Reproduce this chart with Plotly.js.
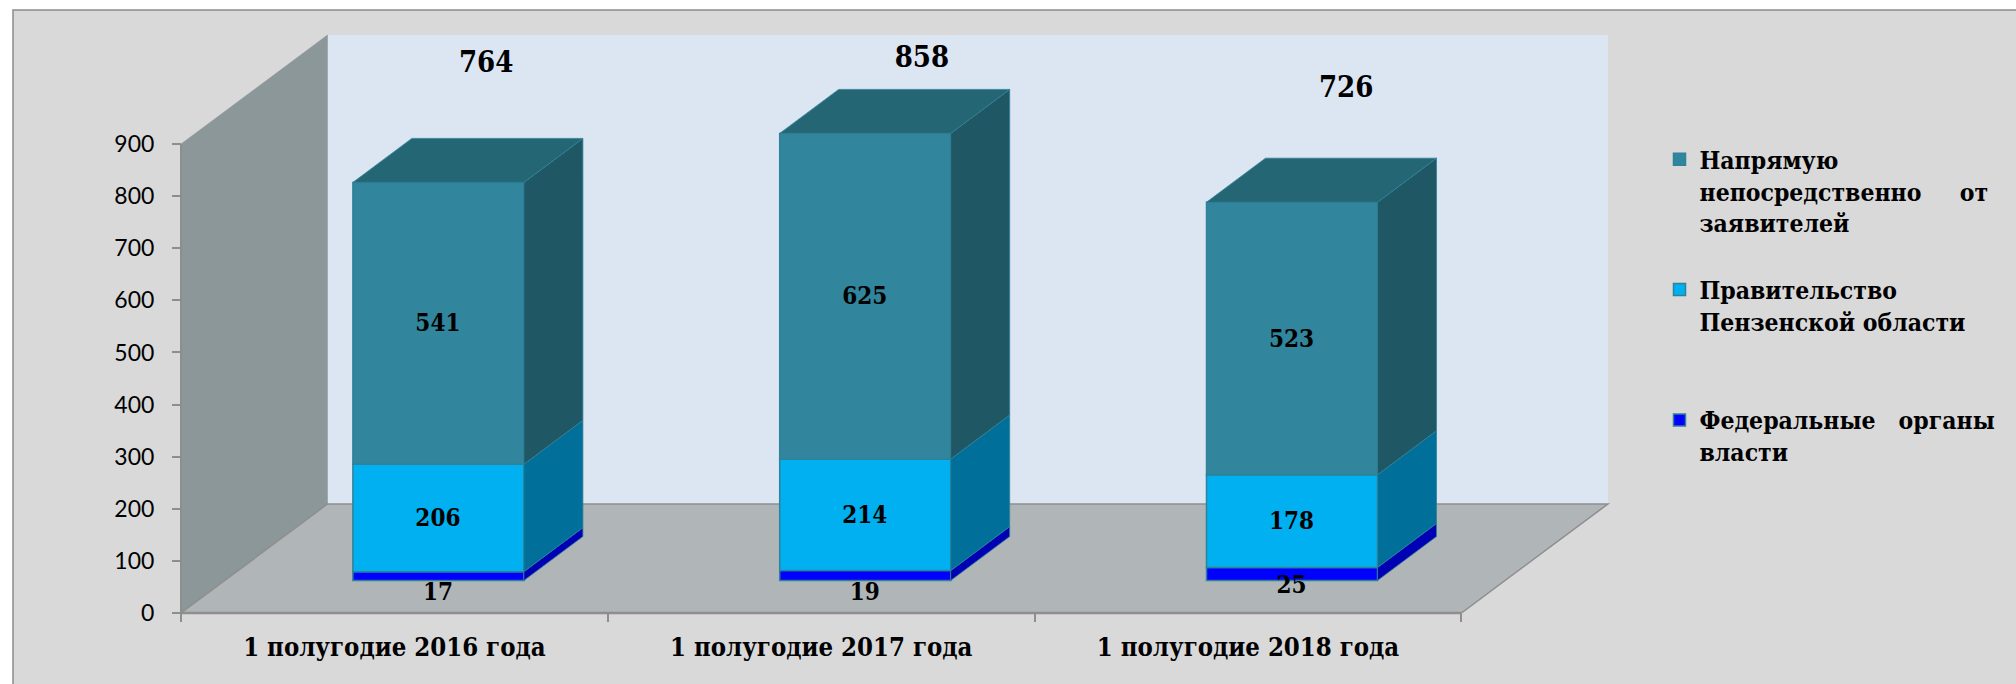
<!DOCTYPE html>
<html><head><meta charset="utf-8">
<script src="https://cdn.plot.ly/plotly-3.0.1.min.js"></script>
<style>html,body{margin:0;padding:0;background:#fff}#c{width:2016px;height:684px}</style>
</head><body><div id="c"></div>
<script>
const categories = ['1 полугодие 2016 года','1 полугодие 2017 года','1 полугодие 2018 года'];
const federal = [17,19,25];
const regional = [206,214,178];
const direct = [541,625,523];
const totals = [764,858,726];
const yTicks = [0,100,200,300,400,500,600,700,800,900];
const nameFederal = ' <br> <br>Федеральные\u00a0\u00a0\u00a0органы<br>власти<br> ';
const nameRegional = ' <br>Правительство<br>Пензенской области';
const nameDirect = ' <br> <br>Напрямую<br>непосредственно\u00a0\u00a0\u00a0\u00a0\u00a0от<br>заявителей';
// hand-placed label heights, in axis units
const federalLabelY = [36,36,50];
const totalLabelY = [1053,1062,1005];
// hand-placed horizontal offsets of the total labels, in category units
const totalLabelDx = [0.112,0.133,0.127];

// pixel calibration of the full-page plot area
const W=2016,H=684,x0px=181,catPx=426.8,y0px=613,pxPerUnit=0.5211;
const px2x=p=>p/catPx, px2y=p=>p/pxPerUnit;
const wallDx=px2x(146.5), wallDy=px2y(109);
const gapDx=px2x(44), gapDy=px2y(32.5);
const barDx=px2x(59), barDy=px2y(44);
const barW=171/catPx;
const nCat=categories.length, yMax=900;
const centers=categories.map((_,i)=>i+0.5+gapDx);
const labelShift=px2x(0.5), labelDrop=4;

const C={dir:'#31859C',dirTop:'#256675',dirSide:'#205765',
         reg:'#00B0F0',regSide:'#00709A',
         fed:'#0000FF',fedSide:'#0000B4',edge:'#2F8298'};
const serif='"DejaVu Serif Condensed", "DejaVu Serif", serif';

const traces=[];
function stack(i,k){const s=[federal,regional,direct];let b=gapDy;for(let j=0;j<k;j++)b+=s[j][i];return b;}
const series=[[federal,nameFederal,C.fed],[regional,nameRegional,C.reg],[direct,nameDirect,C.dir]];
series.forEach(([vals,name,col],k)=>{
  traces.push({type:'bar',x:centers,y:vals,base:vals.map((_,i)=>stack(i,k)),width:barW,name:name,
    marker:{color:col,line:{color:C.edge,width:1.5}},hoverinfo:'none',cliponaxis:false});
});
function poly(xs,ys,fill){traces.push({type:'scatter',mode:'lines',x:xs,y:ys,fill:'toself',fillcolor:fill,
  line:{color:C.edge,width:0.8},showlegend:false,hoverinfo:'none'});}
const sideCols=[C.fedSide,C.regSide,C.dirSide];
categories.forEach((_,i)=>{
  const r=centers[i]+barW/2,l=centers[i]-barW/2;
  series.forEach(([vals],k)=>{
    const a=stack(i,k),b=a+vals[i];
    poly([r,r+barDx,r+barDx,r,r],[a,a+barDy,b+barDy,b,a],sideCols[k]);
  });
  const t=stack(i,3);
  poly([l,r,r+barDx,l+barDx,l],[t,t,t+barDy,t+barDy,t],C.dirTop);
});
// value labels
const lblX=[],lblY=[],lblT=[];
categories.forEach((_,i)=>{
  lblX.push(centers[i]-labelShift);lblY.push(federalLabelY[i]);lblT.push(String(federal[i]));
  lblX.push(centers[i]-labelShift);lblY.push(stack(i,1)+regional[i]/2-labelDrop);lblT.push(String(regional[i]));
  lblX.push(centers[i]-labelShift);lblY.push(stack(i,2)+direct[i]/2-labelDrop);lblT.push(String(direct[i]));
});
traces.push({type:'scatter',mode:'text',x:lblX,y:lblY,text:lblT,textposition:'middle center',
  textfont:{family:serif,size:24,color:'#000',weight:700},showlegend:false,hoverinfo:'none'});
traces.push({type:'scatter',mode:'text',x:centers.map((c,i)=>c+totalLabelDx[i]),y:totalLabelY,text:totals.map(String),
  textposition:'middle center',textfont:{family:serif,size:29,color:'#000',weight:700},showlegend:false,hoverinfo:'none'});

const grey='#8E8E8E';
function shapePath(d,fill,line){return {type:'path',xref:'x',yref:'y',layer:'below',path:d,fillcolor:fill,line:line||{width:0}};}
const P=(pts)=>'M'+pts.map(p=>p.join(',')).join('L')+'Z';
const shapes=[
 {type:'rect',xref:'paper',yref:'paper',layer:'below',x0:0,x1:1,y0:0,y1:1,fillcolor:'#FFFFFF',line:{width:0}},
 {type:'rect',xref:'paper',yref:'paper',layer:'below',x0:13/W,x1:1.01,y0:-0.01,y1:1-10/H,fillcolor:'#D9D9D9',line:{color:'#8C8C8C',width:1.5}},
 shapePath(P([[wallDx,wallDy],[nCat+wallDx,wallDy],[nCat+wallDx,yMax+wallDy],[wallDx,yMax+wallDy]]),'#DCE6F2'),
 shapePath(P([[0,0],[0,yMax],[wallDx,yMax+wallDy],[wallDx,wallDy]]),'#8C979A',{color:'#8C979A',width:0.5}),
 shapePath(P([[0,0],[nCat,0],[nCat+wallDx,wallDy],[wallDx,wallDy]]),'#B0B5B8',{color:grey,width:1.5}),
 {type:'line',xref:'x',yref:'y',layer:'below',x0:0,x1:nCat,y0:0,y1:0,line:{color:grey,width:2.5}},
 {type:'line',xref:'x',yref:'y',layer:'below',x0:0,x1:0,y0:0,y1:yMax,line:{color:grey,width:2}}
];

const layout={
 width:W,height:H,margin:{l:0,r:0,t:0,b:0},paper_bgcolor:'#fff',plot_bgcolor:'rgba(0,0,0,0)',
 barmode:'overlay',showlegend:true,shapes:shapes,hovermode:false,
 xaxis:{range:[-x0px/catPx,(W-x0px)/catPx],anchor:'free',position:(H-y0px)/H,fixedrange:true,
   showgrid:false,zeroline:false,showline:false,tickmode:'array',
   tickvals:categories.map((_,i)=>i+0.5),ticktext:categories,ticks:'',
   tickfont:{family:serif,size:25.5,color:'#000',weight:700},ticklabelstandoff:16,
   minor:{tickmode:'array',tickvals:[0,1,2,3],ticks:'outside',ticklen:8,tickwidth:2,tickcolor:grey,showgrid:false}},
 yaxis:{range:[-(H-y0px)/pxPerUnit,y0px/pxPerUnit],anchor:'free',position:x0px/W,fixedrange:true,
   showgrid:false,zeroline:false,showline:false,tickmode:'array',tickvals:yTicks,
   ticks:'outside',ticklen:9,tickwidth:2,tickcolor:grey,
   tickfont:{family:'Lato, sans-serif',size:23,color:'#000'},ticklabelstandoff:13},
 legend:{x:1659.5/W,xanchor:'left',y:1-73/H,yanchor:'top',traceorder:'reversed',bgcolor:'rgba(0,0,0,0)',borderwidth:0,
   font:{family:serif,size:24.5,color:'#000',weight:700},itemclick:false,itemdoubleclick:false}
};
Plotly.newPlot('c',traces,layout,{displayModeBar:false}).then(()=>{
  // enlarge the legend swatches and pull them towards the text, as in the reference
  document.querySelectorAll('.legend .legendbar path').forEach(el=>{
    el.setAttribute('transform','translate(36.5,0) scale(1.7)');
  });
});
</script></body></html>
